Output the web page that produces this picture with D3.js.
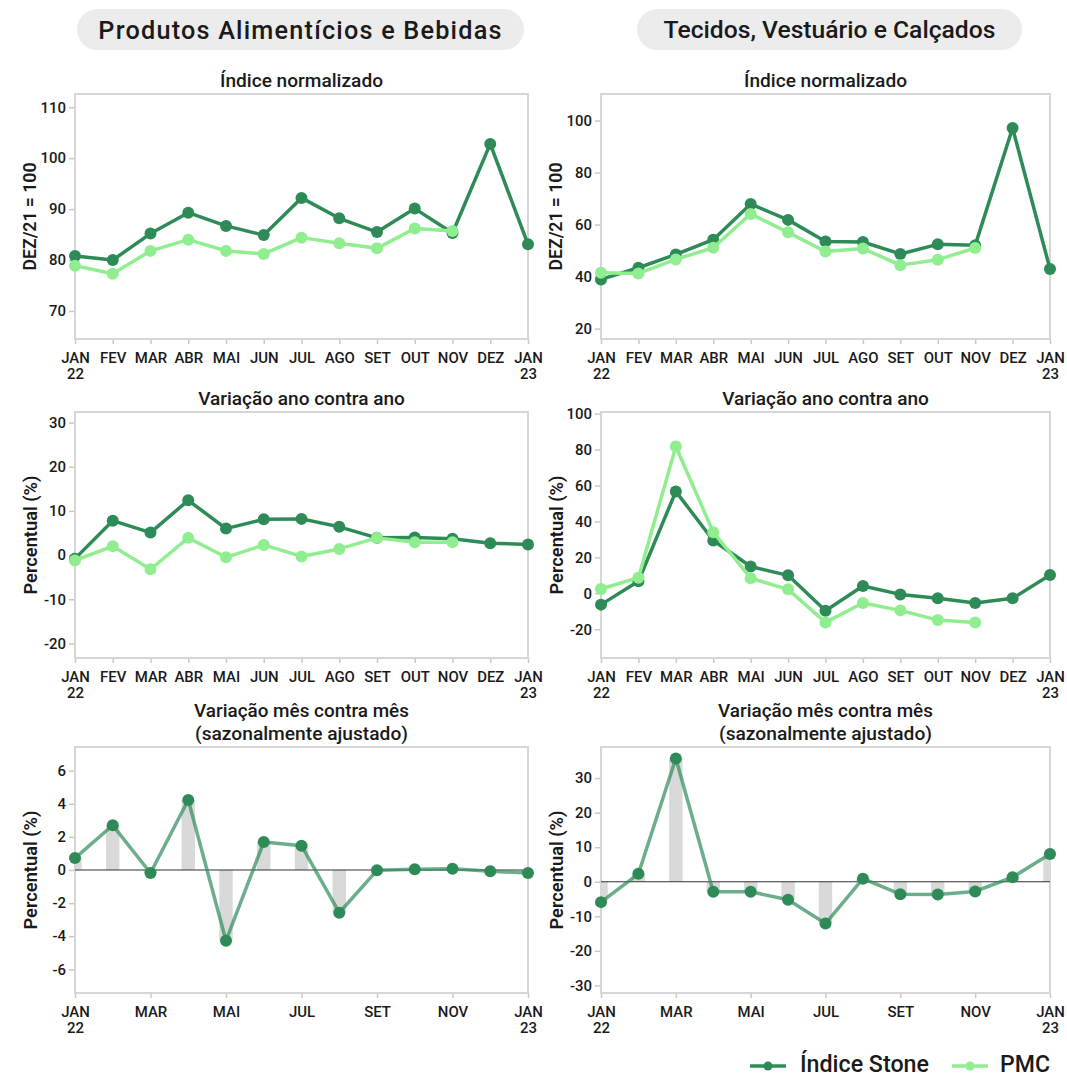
<!DOCTYPE html>
<html>
<head>
<meta charset="utf-8">
<script src="https://cdn.jsdelivr.net/npm/d3@7"></script>
<style>
  html, body { margin: 0; padding: 0; background: #ffffff; }
  svg { display: block; font-family: Roboto, "Noto Sans", sans-serif; }
</style>
</head>
<body>
<svg id="chart" width="1067" height="1077"></svg>
<script>
// ---------- DATA ----------
const months = ["JAN","FEV","MAR","ABR","MAI","JUN","JUL","AGO","SET","OUT","NOV","DEZ","JAN"];
const years  = ["22","","","","","","","","","","","","23"];
const sectionTitles = ["Produtos Alimentícios e Bebidas", "Tecidos, Vestuário e Calçados"];
const rowTitles = [["Índice normalizado"], ["Variação ano contra ano"], ["Variação mês contra mês", "(sazonalmente ajustado)"]];
const yLabels = ["DEZ/21 = 100", "Percentual (%)", "Percentual (%)"];
const seriesNames = ["Índice Stone", "PMC"];

const foodIndexStone    = [80.8, 80.0, 85.2, 89.3, 86.7, 84.9, 92.2, 88.2, 85.5, 90.1, 85.3, 102.8, 83.1];
const foodIndexPMC      = [78.9, 77.3, 81.8, 84.0, 81.8, 81.2, 84.4, 83.3, 82.3, 86.2, 85.7];
const textileIndexStone = [38.9, 43.4, 48.5, 54.2, 67.9, 61.8, 53.5, 53.3, 48.7, 52.4, 52.0, 97.1, 42.9];
const textileIndexPMC   = [41.5, 41.2, 46.6, 51.1, 64.1, 57.0, 49.6, 50.8, 44.4, 46.5, 51.0];

const foodYoYStone    = [-0.8, 7.8, 5.1, 12.4, 6.0, 8.1, 8.2, 6.4, 3.9, 4.0, 3.7, 2.7, 2.4];
const foodYoYPMC      = [-1.2, 2.0, -3.2, 3.9, -0.5, 2.3, -0.3, 1.4, 3.9, 2.9, 2.9];
const textileYoYStone = [-6.3, 6.7, 56.7, 29.4, 14.9, 10.0, -9.7, 4.1, -0.6, -2.8, -5.4, -2.8, 10.2];
const textileYoYPMC   = [2.4, 8.7, 81.7, 34.0, 8.4, 2.2, -16.2, -5.4, -9.5, -14.9, -16.2];

const foodMoM    = [0.72, 2.70, -0.18, 4.23, -4.27, 1.69, 1.47, -2.58, -0.02, 0.04, 0.08, -0.08, -0.18];
const textileMoM = [-5.9, 2.3, 35.7, -2.9, -2.9, -5.2, -12.1, 0.9, -3.6, -3.7, -2.8, 1.3, 8.0];

const foodIndexTicks    = [70, 80, 90, 100, 110];
const textileIndexTicks = [20, 40, 60, 80, 100];
const foodYoYTicks      = [-20, -10, 0, 10, 20, 30];
const textileYoYTicks   = [-20, 0, 20, 40, 60, 80, 100];
const foodMoMTicks      = [-6, -4, -2, 0, 2, 4, 6];
const textileMoMTicks   = [-30, -20, -10, 0, 10, 20, 30];

const foodIndexDomain    = [64.5, 112.6];
const textileIndexDomain = [16, 110.2];
const foodYoYDomain      = [-23.3, 32.4];
const textileYoYDomain   = [-36, 100.9];
const foodMoMDomain      = [-7.43, 7.43];
const textileMoMDomain   = [-32.2, 39.0];

// ---------- STYLE / LAYOUT ----------
const C_STONE = "#2e8b57";
const C_PMC = "#90ee90";
const C_TEXT = "#1a1a1a";
const FONT_W = 500;
const FAMILY = "Roboto, 'Noto Sans', sans-serif";

const cols = [{x0: 75, x1: 528, ylab: 30}, {x0: 601, x1: 1050, ylab: 556}];
const rows = [{y0: 94, y1: 339}, {y0: 412, y1: 658}, {y0: 747, y1: 993}];

const svg = d3.select("#chart");

// font fitting helper: scales font-size so text spans target width
function fit(sel, target) {
  const n = sel.node();
  const fs = parseFloat(sel.attr("font-size"));
  const w = n.getComputedTextLength();
  if (w > 0) sel.attr("font-size", (fs * target / w).toFixed(2));
  return sel;
}
// calibrate axis font size from reference width of "MAR" (~32.7 px)
const probe = svg.append("text").attr("font-size", 15).attr("font-weight", FONT_W).attr("font-family", FAMILY).text("MAR");
fit(probe, 32.5);
const TICK_FS = +probe.attr("font-size");
probe.remove();

// Section pills
const pills = [{cx: 300.5, x0: 77, x1: 524, tw: 410, spacing: 1.2}, {cx: 829.5, x0: 637, x1: 1022, tw: 332, spacing: 0}];
pills.forEach((p, i) => {
  svg.append("rect").attr("x", p.x0).attr("y", 9).attr("width", p.x1 - p.x0).attr("height", 41)
    .attr("rx", 20.5).attr("fill", "#ececec");
  const t = svg.append("text").attr("x", p.cx).attr("y", 29.5).attr("dy", "0.36em").attr("text-anchor", "middle")
    .attr("font-size", 22).attr("font-weight", 500).attr("fill", C_TEXT)
    .attr("letter-spacing", p.spacing)
    .text(sectionTitles[i]);
  fit(t, p.tw);
});

const panels = [
  {r: 0, c: 0, type: "line", stone: foodIndexStone, pmc: foodIndexPMC, domain: foodIndexDomain, ticks: foodIndexTicks},
  {r: 0, c: 1, type: "line", stone: textileIndexStone, pmc: textileIndexPMC, domain: textileIndexDomain, ticks: textileIndexTicks},
  {r: 1, c: 0, type: "line", stone: foodYoYStone, pmc: foodYoYPMC, domain: foodYoYDomain, ticks: foodYoYTicks},
  {r: 1, c: 1, type: "line", stone: textileYoYStone, pmc: textileYoYPMC, domain: textileYoYDomain, ticks: textileYoYTicks},
  {r: 2, c: 0, type: "mom", stone: foodMoM, domain: foodMoMDomain, ticks: foodMoMTicks},
  {r: 2, c: 1, type: "mom", stone: textileMoM, domain: textileMoMDomain, ticks: textileMoMTicks}
];
const titleWidths = [[163], [207], [215, 213]];
const yLabelWidths = [108, 119, 119];

panels.forEach((p, pi) => {
  const col = cols[p.c], row = rows[p.r];
  const x = d3.scalePoint().domain(d3.range(months.length)).range([col.x0, col.x1]).padding(0);
  const y = d3.scaleLinear().domain(p.domain).range([row.y1, row.y0]);
  const g = svg.append("g");

  const clipId = "clip" + pi;
  svg.append("clipPath").attr("id", clipId).append("rect")
    .attr("x", col.x0).attr("y", row.y0).attr("width", col.x1 - col.x0).attr("height", row.y1 - row.y0);

  // title
  const tl = rowTitles[p.r];
  tl.forEach((t, k) => {
    const tx = g.append("text").attr("x", (col.x0 + col.x1) / 2)
      .attr("y", row.y0 - 13.5 - (tl.length - 1 - k) * 23).attr("dy", "0.36em")
      .attr("text-anchor", "middle").attr("font-size", 17).attr("font-weight", FONT_W).attr("fill", C_TEXT)
      .text(t);
    fit(tx, titleWidths[p.r][k]);
  });

  // y label
  const yl = g.append("text")
    .attr("transform", `translate(${col.ylab},${(row.y0 + row.y1) / 2}) rotate(-90)`)
    .attr("text-anchor", "middle").attr("dy", "0.36em")
    .attr("font-size", 15).attr("font-weight", 600).attr("fill", C_TEXT)
    .text(yLabels[p.r]);
  fit(yl, yLabelWidths[p.r]);

  // y axis
  const ya = g.append("g").attr("transform", `translate(${col.x0},0)`)
    .call(d3.axisLeft(y).tickValues(p.ticks).tickSize(6).tickPadding(3).tickFormat(d3.format("d")));
  ya.select(".domain").remove();
  ya.selectAll(".tick line").attr("stroke", "#c8c8c8").attr("stroke-width", 1.5);
  ya.selectAll(".tick text").attr("font-size", TICK_FS).attr("font-weight", FONT_W).attr("fill", C_TEXT)
    .attr("font-family", FAMILY)
    .text(d => d < 0 ? "-" + Math.abs(d) : d);

  // x axis
  const xt = p.type === "mom" ? d3.range(0, months.length, 2) : d3.range(months.length);
  const xa = g.append("g").attr("transform", `translate(0,${row.y1})`)
    .call(d3.axisBottom(x).tickValues(xt).tickSize(5).tickFormat(""));
  xa.select(".domain").remove();
  xa.selectAll(".tick line").attr("stroke", "#c8c8c8").attr("stroke-width", 1.5);
  xa.selectAll(".tick").each(function(d) {
    const t = d3.select(this).append("text").attr("fill", C_TEXT).attr("font-size", TICK_FS)
      .attr("font-weight", FONT_W).attr("text-anchor", "middle")
      .attr("font-family", FAMILY);
    t.append("tspan").attr("x", 0).attr("y", 23.5).text(months[d]);
    if (years[d]) t.append("tspan").attr("x", 0).attr("y", 40).text(years[d]);
  });

  // frame
  g.append("rect").attr("x", col.x0).attr("y", row.y0).attr("width", col.x1 - col.x0).attr("height", row.y1 - row.y0)
    .attr("fill", "none").attr("stroke", "#d6d6d6").attr("stroke-width", 2);

  if (p.type === "line") {
    const line = d3.line().defined(d => d != null).x((d, i) => x(i)).y(d => y(d));
    [[p.stone, C_STONE], [p.pmc, C_PMC]].forEach(([data, color]) => {
      g.append("path").datum(data).attr("d", line).attr("fill", "none")
        .attr("stroke", color).attr("stroke-width", 3.5).attr("stroke-linejoin", "round");
      g.selectAll(null).data(data).enter().append("circle")
        .attr("cx", (d, i) => x(i)).attr("cy", d => y(d)).attr("r", 6).attr("fill", color);
    });
  } else {
    const bw = 13.4;
    g.append("g").attr("clip-path", `url(#${clipId})`).selectAll("rect").data(p.stone).enter().append("rect")
      .attr("x", (d, i) => x(i) - bw / 2).attr("width", bw)
      .attr("y", d => y(Math.max(0, d))).attr("height", d => Math.abs(y(d) - y(0)))
      .attr("fill", "#d9d9d9");
    g.append("line").attr("x1", col.x0).attr("x2", col.x1).attr("y1", y(0)).attr("y2", y(0))
      .attr("stroke", "#333").attr("stroke-width", 1.2);
    const line = d3.line().x((d, i) => x(i)).y(d => y(d));
    g.append("path").datum(p.stone).attr("d", line).attr("fill", "none")
      .attr("stroke", C_STONE).attr("stroke-opacity", 0.7).attr("stroke-width", 3.5).attr("stroke-linejoin", "round");
    g.selectAll(null).data(p.stone).enter().append("circle")
      .attr("cx", (d, i) => x(i)).attr("cy", d => y(d)).attr("r", 6).attr("fill", C_STONE);
  }
});

// legend
const legend = [{name: seriesNames[0], color: C_STONE, x0: 750, x1: 786, tx: 800, tw: 129},
                {name: seriesNames[1], color: C_PMC, x0: 952, x1: 988, tx: 1000, tw: 50}];
legend.forEach(l => {
  svg.append("line").attr("x1", l.x0).attr("x2", l.x1).attr("y1", 1066).attr("y2", 1066)
    .attr("stroke", l.color).attr("stroke-width", 3.5);
  svg.append("circle").attr("cx", (l.x0 + l.x1) / 2).attr("cy", 1066).attr("r", 4.5).attr("fill", l.color);
  const t = svg.append("text").attr("x", l.tx).attr("y", 1063.5).attr("dy", "0.36em")
    .attr("font-size", 22).attr("font-weight", 500).attr("fill", C_TEXT).text(l.name);
  fit(t, l.tw);
});
</script>
</body>
</html>
